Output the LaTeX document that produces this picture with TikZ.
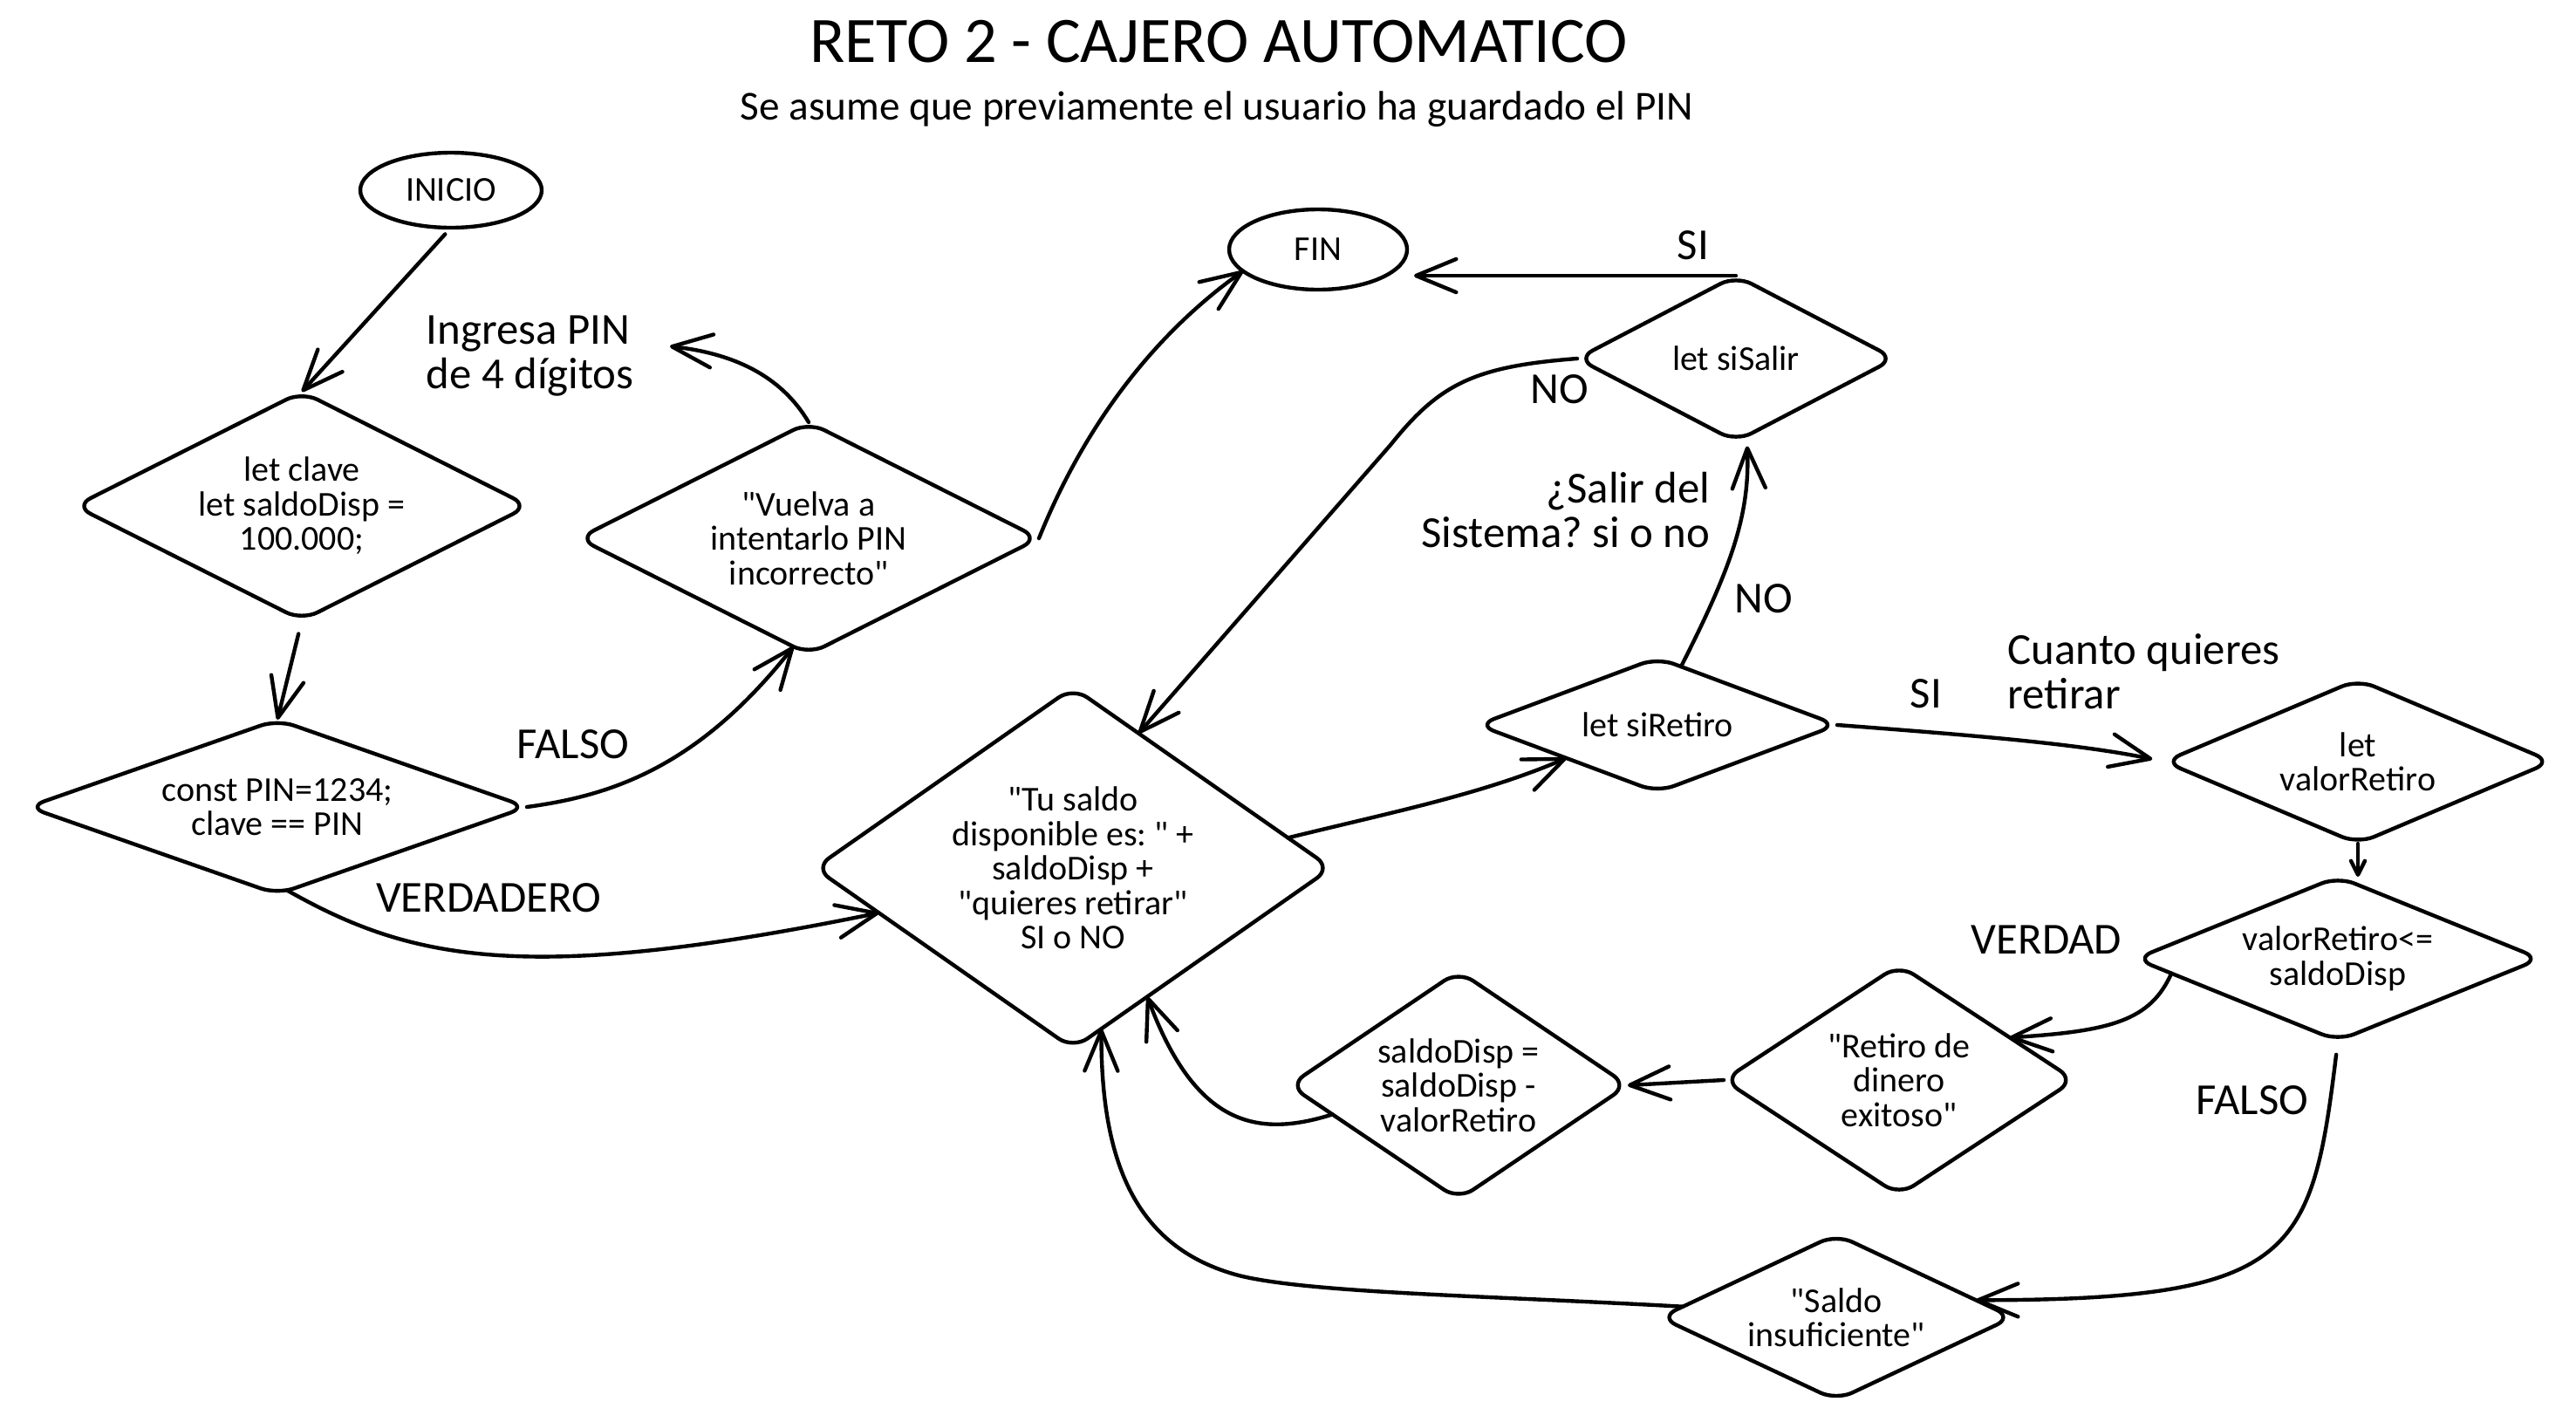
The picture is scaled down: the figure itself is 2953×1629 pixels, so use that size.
\documentclass[tikz,border=0pt]{standalone}
\usepackage{fontspec}
\setmainfont{Carlito}[Ligatures=TeXOff]
\frenchspacing
\usetikzlibrary{arrows.meta,shapes.geometric}
\tikzset{
  ink/.style={draw=black, line width=1.1pt, line join=round, line cap=round},
  dia/.style 2 args={ink, shape=diamond, minimum width=#1, minimum height=#2, inner sep=0pt, outer sep=0pt, rounded corners=5pt},
  ell/.style 2 args={ink, shape=ellipse, minimum width=#1, minimum height=#2, inner sep=0pt, outer sep=0pt, font=\fontsize{10}{10}\selectfont},
  dtext/.style={font=\fontsize{10}{9.85}\selectfont, align=center, inner sep=0pt},
  lbl/.style={font=\fontsize{12.7}{12.75}\selectfont, inner sep=0pt},
  arr/.style={ink, -{Straight Barb[length=11.5pt,width=9.5pt,round]}},
  arrs/.style={ink, -{Straight Barb[length=4pt,width=4pt,round]}},
}
\begin{document}
\begin{tikzpicture}[x=0.25pt,y=-0.25pt]
\fill[white] (0,0) rectangle (2953,1629);
\useasboundingbox (0,0) rectangle (2953,1629);

% title
\node[font=\fontsize{18.6}{20}\selectfont, anchor=base, inner sep=0pt] (title) at (1397,71) {RETO 2 - CAJERO AUTOMATICO};
\node[font=\fontsize{11.8}{12}\selectfont, anchor=base, inner sep=0pt] (subtitle) at (1395,137) {Se asume que previamente el usuario ha guardado el PIN};

% terminals
\node[ell={52pt}{21.5pt}] (inicio) at (517,218) {INICIO};
\node[ell={51pt}{23pt}] (fin) at (1511,286) {FIN};

% diamonds
\node[dia={130pt}{65.5pt}, label={[dtext]center:{let clave\\let saldoDisp =\\100.000;}}] (d1) at (346,580) {};
\node[dia={143pt}{50pt}, label={[dtext]center:{const PIN=1234;\\clave == PIN}}] (d2) at (318,925) {};
\node[dia={132pt}{66.5pt}, label={[dtext]center:{"Vuelva a\\intentarlo PIN\\incorrecto"}}] (d3) at (927,617) {};
\node[dia={148pt}{103.5pt}, label={[dtext]center:{"Tu saldo\\disponible es: " +\\saldoDisp +\\"quieres retirar"\\SI o NO}}] (big) at (1230,995) {};
\node[dia={91pt}{47.5pt}, label={[dtext]center:{let siSalir}}] (sisalir) at (1990,411) {};
\node[dia={103pt}{38.5pt}, label={[dtext]center:{let siRetiro}}] (siretiro) at (1900,831) {};
\node[dia={111pt}{47pt}, label={[dtext]center:{let\\valorRetiro}}] (valret) at (2703,873) {};
\node[dia={116pt}{47pt}, label={[dtext]center:{valorRetiro<=\\saldoDisp}}] (cond) at (2680,1099) {};
\node[dia={100.5pt}{66pt}, label={[dtext]center:{"Retiro de\\dinero\\exitoso"}}] (exit) at (2177,1238) {};
\node[dia={97pt}{65.5pt}, label={[dtext]center:{saldoDisp =\\saldoDisp -\\valorRetiro}}] (saldo) at (1672,1244) {};
\node[dia={101pt}{47.5pt}, label={[dtext]center:{"Saldo\\insuficiente"}}] (insuf) at (2105,1510) {};

% labels
\node[lbl, align=left, anchor=west] (ingresa) at (488,408) {Ingresa PIN\\de 4 dígitos};
\coordinate (ingtip) at (768,397);
\node[lbl] (lfalso1) at (657,853) {FALSO};
\node[lbl] (lverdadero) at (560,1029) {VERDADERO};
\node[lbl] (lsi1) at (1941,281) {SI};
\node[lbl] (lno1) at (1788,446) {NO};
\node[lbl, align=right, anchor=east] (lsalir) at (1961,585) {¿Salir del\\Sistema? si o no};
\node[lbl] (lno2) at (2022,686) {NO};
\node[lbl, align=left, anchor=west] (lcuanto) at (2301,770) {Cuanto quieres\\retirar};
\node[lbl] (lsi2) at (2208,795) {SI};
\node[lbl] (lverdad) at (2346,1077) {VERDAD};
\node[lbl] (lfalso2) at (2582,1261) {FALSO};

% connectors
\draw[arr, shorten <=2.5pt] (inicio.south) -- (d1.north);
\draw[arr, shorten <=4pt] (d1.south) -- (d2.north);
\draw[arr] (d2.east) .. controls (700,912) and (800,880) .. (d3.-98);
\draw[arr] (d2.-83) .. controls (470,1100) and (600,1130) .. (big.193);
\draw[arr] (d3.north) .. controls (895,430) and (840,405) .. (ingtip);
\draw[arr] (d3.east) .. controls (1230,520) and (1300,400) .. (fin.196);
\draw[arr, shorten >=2pt] (sisalir.north) -- (sisalir.north -| fin.east);
\draw[arr] (sisalir.west) .. controls (1690,420) and (1650,440) .. (1594,510) -- (big.64);
\draw[arr] (big.8) .. controls (1600,930) and (1700,910) .. (siretiro.200);
\draw[arr, shorten >=3pt] (siretiro.68) .. controls (1985,650) and (2006,590) .. (sisalir.-82);
\draw[arr, shorten >=3.5pt] (siretiro.east) .. controls (2250,842) and (2380,852) .. (valret.west);
\draw[arrs] (valret.south) -- (valret.south |- cond.north);
\draw[arr] (cond.185) .. controls (2465,1170) and (2420,1182) .. (exit.21);
\draw[arr, shorten <=4pt] (cond.south) .. controls (2650,1440) and (2630,1490) .. (insuf.7);
\draw[arr] (exit.west) -- (saldo.east);
\draw[arr] (saldo.193) .. controls (1440,1305) and (1370,1290) .. (big.-60);
\draw[arr] (insuf.176) .. controls (1700,1485) and (1500,1482) .. (1420,1462) .. controls (1300,1430) and (1262,1330) .. (big.-80);
\end{tikzpicture}
\end{document}
